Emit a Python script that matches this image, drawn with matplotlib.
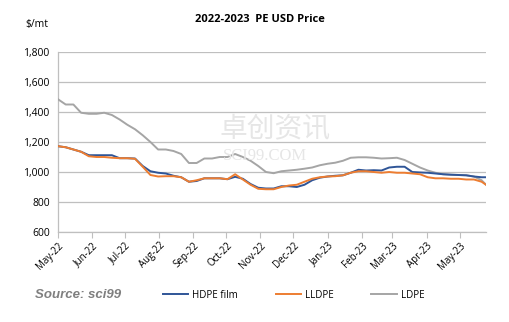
import numpy as np
import pandas as pd
import matplotlib
matplotlib.use("Agg")
import matplotlib.pyplot as plt
import matplotlib.dates as mdates

dates = list(pd.date_range("2022-05-01", periods=56, freq="7D")) + [pd.Timestamp("2023-05-25")]

hdpe = [1172, 1165, 1150, 1135, 1112, 1112, 1112, 1112, 1092, 1092,
        1090, 1040, 1005, 995, 990, 975, 965, 935, 940, 958,
        958, 958, 952, 968, 955, 920, 895, 890, 890, 905,
        905, 900, 915, 945, 962, 970, 975, 978, 995, 1015,
        1010, 1012, 1010, 1030, 1035, 1035, 1000, 997, 995, 990,
        985, 982, 980, 978, 970, 965, 965]
lldpe = [1172, 1165, 1150, 1135, 1105, 1100, 1100, 1095, 1092, 1092,
         1088, 1035, 980, 970, 972, 972, 965, 935, 945, 958,
         958, 958, 952, 985, 950, 915, 888, 885, 885, 900,
         910, 915, 935, 955, 965, 970, 972, 978, 995, 1005,
         1005, 1000, 995, 1000, 995, 995, 990, 985, 965, 958,
         958, 955, 955, 950, 950, 935, 915]
ldpe = [1485, 1450, 1450, 1395, 1388, 1388, 1395, 1380, 1350, 1315,
        1285, 1245, 1200, 1150, 1150, 1140, 1120, 1060, 1060, 1090,
        1090, 1100, 1100, 1120, 1100, 1075, 1040, 1000, 992, 1005,
        1010, 1015, 1022, 1030, 1045, 1055, 1062, 1075, 1095, 1098,
        1098, 1095, 1090, 1092, 1095, 1080, 1055, 1030, 1010, 995,
        985, 982, 980, 978, 970, 945, 915]

yticks = [600, 800, 1000, 1200, 1400, 1600, 1800]
month_ticks = pd.date_range("2022-05-01", "2023-05-01", freq="MS")

plt.rcParams['font.family'] = ['Open Sans', 'Noto Sans CJK SC', 'DejaVu Sans']

fig = plt.figure(figsize=(5.1, 3.22), dpi=100)
ax = fig.add_axes([0.1137, 0.2795, 0.8393, 0.559])

# faint watermark
fig.text(0.54, 0.60, "卓创资讯", fontsize=20, color="#e6e6e6", ha="center", va="center",
         family=['Noto Sans CJK SC'], zorder=0)
fig.text(0.52, 0.515, "SCI99.COM", fontsize=12, color="#e6e6e6", ha="center", va="center",
         family=['Liberation Serif'], zorder=0)

ax.plot(dates, ldpe, color="#A5A5A5", lw=1.4, label="LDPE", zorder=3)
ax.plot(dates, hdpe, color="#2F5597", lw=1.4, label="HDPE film", zorder=4)
ax.plot(dates, lldpe, color="#ED7D31", lw=1.4, label="LLDPE", zorder=5)

ax.set_ylim(600, 1800)
ax.set_yticks(yticks)
ax.set_yticklabels([f"{v:,}" for v in yticks], fontsize=7.5)
ax.set_xlim(pd.Timestamp("2022-05-01"), pd.Timestamp("2023-05-25"))
ax.set_xticks(month_ticks)
ax.xaxis.set_major_formatter(mdates.DateFormatter("%b-%y"))
plt.setp(ax.get_xticklabels(), rotation=45, ha="right", rotation_mode="anchor", fontsize=7)

ax.grid(axis="y", color="#BFBFBF", lw=0.9)
ax.set_axisbelow(True)
for s in ["top", "right"]:
    ax.spines[s].set_visible(False)
for s in ["left", "bottom"]:
    ax.spines[s].set_color("#BFBFBF")
    ax.spines[s].set_linewidth(0.9)
ax.tick_params(axis="y", length=0, pad=6)
ax.tick_params(axis="x", length=4, color="#BFBFBF", pad=2)
ax.patch.set_alpha(0)

fig.text(0.51, 0.94, "2022-2023  PE USD Price", fontsize=8, fontweight="bold",
         ha="center", va="center")
fig.text(0.05, 0.925, "$/mt", fontsize=7.5, ha="left", va="center")
fig.text(0.068, 0.083, "Source: sci99", fontsize=9.5, fontweight="bold", style="italic",
         color="#7F7F7F", ha="left", va="center", family=['Liberation Sans'])

handles, labels = ax.get_legend_handles_labels()
order = [1, 2, 0]
fig.legend([handles[i] for i in order], [labels[i] for i in order],
           loc="center left", bbox_to_anchor=(0.302, 0.083), ncol=3, frameon=False,
           fontsize=7, handlelength=2.6, handletextpad=0.4, columnspacing=3.9)

fig.savefig("out.png", dpi=100)
